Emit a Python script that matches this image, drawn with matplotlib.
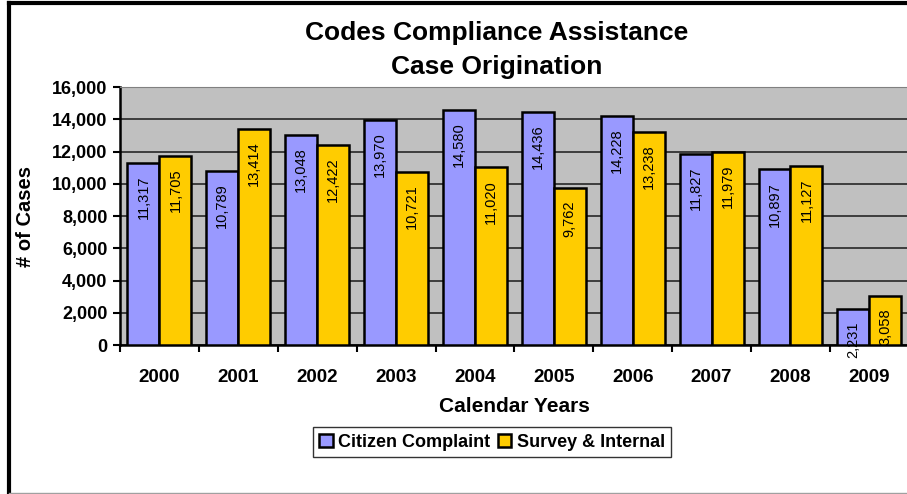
import numpy as np
import matplotlib.pyplot as plt
from matplotlib.lines import Line2D

plt.rcParams['font.family'] = ['Liberation Sans', 'DejaVu Sans']

years = ['2000', '2001', '2002', '2003', '2004', '2005', '2006', '2007', '2008', '2009']
citizen = [11317, 10789, 13048, 13970, 14580, 14436, 14228, 11827, 10897, 2231]
survey = [11705, 13414, 12422, 10721, 11020, 9762, 13238, 11979, 11127, 3058]

fig = plt.figure(figsize=(9.07, 4.94), dpi=100)
ax = fig.add_axes([120 / 907, 1 - 345 / 494, 1.0 - 120 / 907 + 0.002, (345 - 87) / 494])
ax.set_facecolor('#C0C0C0')

x = np.arange(len(years))
w = 0.405
b1 = ax.bar(x - w / 2, citizen, w, color='#9999FF', edgecolor='black', linewidth=1.8,
            label='Citizen Complaint', zorder=3)
b2 = ax.bar(x + w / 2, survey, w, color='#FFCC00', edgecolor='black', linewidth=1.8,
            label='Survey & Internal', zorder=3)

for bars, vals in [(b1, citizen), (b2, survey)]:
    for r, v in zip(bars, vals):
        ax.annotate(f'{v:,}', (r.get_x() + r.get_width() / 2, v), xytext=(0, -9),
                    textcoords='offset points', rotation=90, ha='center', va='top',
                    fontsize=10.5, zorder=4)

ax.set_xlim(-0.5, len(years) - 0.5)
ax.set_ylim(0, 16000)
ax.set_yticks(np.arange(0, 16001, 2000))
ax.set_yticklabels([f'{v:,}' for v in range(0, 16001, 2000)], fontsize=13, fontweight='bold')
ax.yaxis.grid(True, color='#333333', linewidth=1.3, zorder=1)
ax.set_axisbelow(True)

ax.set_xticks(x)
ax.set_xticklabels(years, fontsize=13.5, fontweight='bold')
ax.tick_params(axis='x', which='major', length=0, pad=17)
ax.set_xticks(np.arange(-0.5, len(years), 1.0), minor=True)
ax.tick_params(axis='x', which='minor', length=5, width=1.5, direction='out')
ax.tick_params(axis='y', length=5, width=1.5, direction='out', pad=4)

for s in ['left', 'bottom']:
    ax.spines[s].set_linewidth(1.8)
    ax.spines[s].set_color('black')
ax.spines['top'].set_color('#808080')
ax.spines['right'].set_visible(False)

ax.set_ylabel('# of Cases', fontsize=14.5, fontweight='bold', labelpad=12)
ax.set_xlabel('Calendar Years', fontsize=15, fontweight='bold', labelpad=8)

fig.text(497 / 907, 1 - 50 / 494, 'Codes Compliance Assistance\nCase Origination',
         ha='center', va='center', fontsize=19, fontweight='bold', linespacing=1.5)

leg = fig.legend(handles=[b1, b2], loc='center', bbox_to_anchor=(492 / 907, 1 - 442 / 494),
                 ncol=2, fontsize=13, frameon=True, fancybox=False, edgecolor='black',
                 handlelength=0.75, handleheight=0.75, handletextpad=0.3, columnspacing=0.4,
                 borderpad=0.35)
leg.get_frame().set_linewidth(1.0)
for t in leg.get_texts():
    t.set_fontweight('bold')

# outer frame of the original sheet
fig.add_artist(Line2D([8.5 / 907, 8.5 / 907], [0, 1 - 3 / 494], color='black', linewidth=3,
                      transform=fig.transFigure))
fig.add_artist(Line2D([8.5 / 907, 1], [1 - 3.5 / 494, 1 - 3.5 / 494], color='black', linewidth=3,
                      transform=fig.transFigure))
fig.add_artist(Line2D([8.5 / 907, 1], [1.5 / 494, 1.5 / 494], color='#A0A0A0', linewidth=1,
                      transform=fig.transFigure))

fig.savefig('out.png', dpi=100)
